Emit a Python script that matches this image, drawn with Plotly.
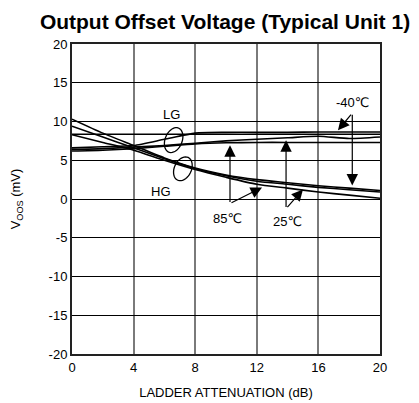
import numpy as np
import plotly.graph_objects as go

# ladder attenuation (dB)
atten = [0, 2, 4, 6, 8, 10, 12, 14, 16, 18, 20]

# high gain curves (mV)
hg_a = [10.3, 8.5, 6.9, 5.3, 4.0, 3.1, 2.5, 2.1, 1.7, 1.4, 1.1]
hg_b = [9.4, 8.0, 6.6, 5.2, 3.9, 3.0, 2.3, 1.9, 1.5, 1.2, 0.9]
hg_c = [8.3, 7.3, 6.3, 5.0, 3.8, 2.8, 1.9, 1.4, 0.9, 0.5, 0.1]

# low gain curves (mV)
lg_a = [8.35, 8.35, 8.35, 8.35, 8.35, 8.35, 8.35, 8.35, 8.35, 8.35, 8.35]
lg_b = [6.6, 6.75, 6.9, 7.7, 8.5, 8.6, 8.6, 8.6, 8.65, 8.65, 8.65]
lg_c = [6.4, 6.5, 6.7, 6.9, 7.2, 7.5, 7.7, 7.9, 8.1, 7.8, 8.0]
lg_d = [6.2, 6.3, 6.5, 6.8, 7.1, 7.25, 7.3, 7.3, 7.3, 7.3, 7.3]

x_ticks = [0, 4, 8, 12, 16, 20]
y_ticks = [-20, -15, -10, -5, 0, 5, 10, 15, 20]
y_labels = ["-20", "-15", "-10", "-5", "0", "5", "10", "15", "20"]

FONT = "Liberation Sans, Arial, DejaVu Sans, sans-serif"
PX_X = 308 / 20.0   # pixels per dB
PX_Y = 310 / 40.0   # pixels per mV

fig = go.Figure()
for ys in [hg_a, hg_b, hg_c, lg_a, lg_b, lg_c, lg_d]:
    fig.add_trace(go.Scatter(x=atten, y=ys, mode='lines', showlegend=False,
                             line=dict(color='black', width=1.6, shape='spline', smoothing=0.6)))


def ellipse_path(cx, cy, a, b, ang):
    # a, b in pixels, ang in degrees; returns svg path in data coords
    t = np.linspace(0, 2 * np.pi, 40)
    th = np.radians(ang)
    px = a * np.cos(t) * np.cos(th) - b * np.sin(t) * np.sin(th)
    py = a * np.cos(t) * np.sin(th) + b * np.sin(t) * np.cos(th)
    xs = cx + px / PX_X
    ys = cy + py / PX_Y
    pts = ["%s%.4f,%.4f" % ('M' if i == 0 else 'L', xx, yy) for i, (xx, yy) in enumerate(zip(xs, ys))]
    return " ".join(pts) + " Z"


fig.add_shape(type='path', path=ellipse_path(6.6, 7.6, 13, 8.5, 68), xref='x', yref='y',
              line=dict(color='black', width=1.3))
fig.add_shape(type='path', path=ellipse_path(7.2, 3.9, 12.5, 8.5, 65), xref='x', yref='y',
              line=dict(color='black', width=1.3))

txt = dict(family=FONT, size=13, color='black')
fig.add_annotation(x=6.43, y=10.95, text="LG", showarrow=False, font=txt)
fig.add_annotation(x=5.8, y=0.97, text="HG", showarrow=False, font=txt)
fig.add_annotation(x=18.2, y=12.5, text="-40℃", showarrow=False, font=txt)
fig.add_annotation(x=10.1, y=-2.5, text="85℃", showarrow=False, font=txt)
fig.add_annotation(x=14.0, y=-2.9, text="25℃", showarrow=False, font=txt)

arrows = [
    (18.2, 11.07, 17.27, 8.87),
    (18.2, 11.07, 18.2, 1.75),
    (10.26, -0.58, 10.26, 6.93),
    (10.26, -0.58, 12.34, 1.49),
    (13.9, -1.23, 13.9, 7.58),
    (13.9, -1.23, 15.0, 1.23),
]
for x0, y0, x1, y1 in arrows:
    fig.add_annotation(x=x1, y=y1, ax=x0, ay=y0, axref='x', ayref='y', xref='x', yref='y',
                       text="", showarrow=True, arrowhead=2, arrowsize=1.9, arrowwidth=1.2,
                       arrowcolor='black')

# page body adds an 8px margin, so the figure is a bit smaller than the window
fig.update_layout(
    width=411, height=395,
    margin=dict(l=64, r=39, t=36, b=49, autoexpand=False),
    paper_bgcolor='white', plot_bgcolor='white',
    title=dict(text="<b>Output Offset Voltage (Typical Unit 1)</b>", x=0.528, xanchor='center',
               y=0.965, yanchor='middle', font=dict(family=FONT, size=21, color='black')),
    font=dict(family=FONT, size=13, color='black'),
)
fig.update_xaxes(range=[0, 20], tickvals=x_ticks, ticks='', showgrid=True, gridcolor='#7a7a7a',
                 gridwidth=1.5, zeroline=False, showline=True, linecolor='#222', linewidth=2,
                 mirror=True, tickfont=dict(size=13), automargin=False,
                 title=dict(text="LADDER ATTENUATION (dB)", font=dict(size=13), standoff=14))
fig.update_yaxes(range=[-20, 20], tickvals=y_ticks, ticktext=y_labels, ticks='', showgrid=True,
                 gridcolor='black', gridwidth=1, zeroline=False, showline=True, linecolor='#222',
                 linewidth=2, mirror=True, tickfont=dict(size=13), automargin=False,
                 title=dict(text="V<sub>OOS</sub> (mV)", font=dict(size=13), standoff=27))

fig.write_html("out.html")
